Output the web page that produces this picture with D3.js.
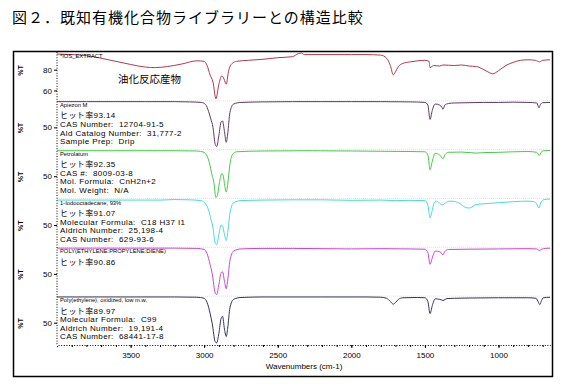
<!DOCTYPE html>
<html>
<head>
<meta charset="utf-8">
<script src="https://cdn.jsdelivr.net/npm/d3@7"></script>
<style>
  body { margin: 0; background: #fff; }
  svg { display: block; }
  text { font-family: "Liberation Sans", "Noto Sans CJK JP", sans-serif; }
</style>
</head>
<body>
<div id="chart"></div>
<script>
// wavenumber (cm-1), %T
const iosExtract = [[4000,95],[3900,94.5],[3800,93.5],[3700,91],[3600,88],[3500,85],[3400,82.5],[3330,82],[3250,83],[3150,85.5],[3050,88.5],[3000,88],[2980,84],[2960,75],[2940,68],[2920,52],[2900,66],[2880,74],[2865,71],[2850,66],[2835,78],[2810,86],[2780,88],[2700,89],[2600,90],[2500,91.5],[2400,92.5],[2360,95.5],[2340,96],[2320,94.5],[2200,94.5],[2000,94.5],[1900,94.5],[1800,94],[1760,91],[1735,84],[1715,75],[1700,78],[1680,83],[1650,86],[1600,87.5],[1550,88.5],[1500,89],[1472,88],[1465,82],[1440,84],[1400,83.5],[1377,84.5],[1300,84],[1250,84.5],[1200,83.5],[1150,83],[1100,80],[1060,77],[1040,76],[1000,79],[950,84],[900,87],[850,89],[800,89.5],[750,89],[720,87.5],[700,89],[650,89.5]];
const apiezonM = [[4000,98.5],[3800,98.5],[3600,98.5],[3400,98.5],[3200,98.5],[3100,98],[3020,97],[2990,93],[2970,80],[2955,66],[2940,50],[2925,18],[2915,14],[2900,35],[2885,60],[2875,62],[2862,42],[2850,22],[2840,38],[2825,78],[2800,94],[2750,97],[2600,98],[2400,98.5],[2200,98.5],[2000,98.5],[1800,98.5],[1600,98],[1500,97],[1480,92],[1465,65],[1450,82],[1430,94],[1400,92],[1385,88],[1377,84],[1365,92],[1340,95],[1300,96],[1200,96.5],[1100,97],[1000,97],[900,97.5],[800,97],[740,96],[725,87],[715,93],[700,96.5],[650,97]];
const petrolatum = [[4000,98],[3600,98],[3200,98],[3050,97.5],[3000,95],[2980,88],[2960,70],[2945,50],[2935,40],[2920,10],[2910,14],[2895,40],[2880,55],[2870,50],[2860,32],[2850,20],[2840,35],[2825,72],[2810,90],[2780,96],[2600,97.5],[2300,98],[2000,97.5],[1800,97],[1600,96.5],[1500,96],[1480,90],[1465,62],[1450,78],[1430,93],[1400,90],[1377,83],[1365,90],[1340,95],[1250,95.5],[1150,93.5],[1100,94.5],[1000,95],[900,96],[800,96.5],[740,95],[722,89],[710,95],[690,98],[650,98.5]];
const iodooctadecane = [[4000,97],[3600,97],[3300,97],[3200,98],[3100,97.5],[3020,96],[2990,90],[2970,78],[2955,62],[2940,45],[2925,16],[2915,13],[2900,32],[2885,50],[2875,48],[2862,32],[2850,21],[2840,36],[2825,72],[2800,92],[2750,96],[2600,97],[2400,97.5],[2200,97.5],[2000,96.5],[1800,97],[1700,96],[1600,96.5],[1500,96],[1480,88],[1465,63],[1450,78],[1435,93],[1420,95],[1400,91],[1380,88],[1360,92],[1330,95],[1300,94.5],[1260,90],[1230,84],[1200,82],[1180,84],[1160,88],[1100,90],[1000,92],[900,94],[800,95],[760,94],[740,90],[725,82],[712,92],[690,98],[650,99]];
const epdm = [[4000,98.5],[3600,98.5],[3200,98.5],[3050,98],[3000,96],[2980,88],[2960,68],[2945,50],[2925,14],[2915,11],[2900,30],[2885,52],[2875,54],[2862,36],[2850,22],[2840,38],[2825,75],[2800,93],[2750,97],[2600,98],[2400,98],[2200,97.5],[2000,97],[1800,97.5],[1600,97],[1500,96.5],[1480,90],[1465,68],[1450,80],[1430,93],[1400,92],[1377,86],[1365,92],[1340,96],[1200,96.5],[1000,97],[800,97.5],[740,97],[722,94],[710,96],[680,98],[650,98.5]];
const oxidizedPE = [[4000,98.5],[3600,98.5],[3200,98.5],[3050,98],[3000,96],[2980,88],[2960,68],[2945,48],[2925,14],[2915,12],[2900,30],[2885,58],[2875,62],[2862,38],[2850,24],[2840,40],[2825,78],[2800,94],[2750,97.5],[2600,98.5],[2200,98.5],[1900,98.5],[1800,98],[1760,96],[1735,90],[1715,85],[1700,88],[1680,94],[1650,97],[1550,97.5],[1500,97],[1480,90],[1465,67],[1450,82],[1430,95],[1400,94],[1377,92],[1350,95.5],[1300,96],[1200,96.5],[1000,97],[800,97],[745,96],[728,88],[720,84],[710,90],[695,97],[650,98]];

const spectra = [iosExtract, apiezonM, petrolatum, iodooctadecane, epdm, oxidizedPE];
const colors = ["#b0384c", "#5c3a5e", "#44cc44", "#44dcdc", "#cc44cc", "#333355"];
const yDomains = [[50, 97], [8, 100], [8, 100], [8, 100], [8, 100], [8, 100]];
const yTicks = [[60, 80], [50], [50], [50], [50], [50]];
const labels = ["*IOS_EXTRACT", "Apiezon M", "Petrolatum", "1-Iodooctadecane, 93%", "POLY(ETHYLENE:PROPYLENE:DIENE)", "Poly(ethylene), oxidized, low m.w."];
const infoLines = [
  [],
  ["ヒット率93.14", "CAS Number:  12704-91-5", "Ald Catalog Number:  31,777-2", "Sample Prep:  Drip"],
  ["ヒット率92.35", "CAS #:  8009-03-8", "Mol. Formula:  CnH2n+2", "Mol. Weight:  N/A"],
  ["ヒット率91.07", "Molecular Formula:  C18 H37 I1", "Aldrich Number:  25,198-4", "CAS Number:  629-93-6"],
  ["ヒット率90.86"],
  ["ヒット率89.97", "Molecular Formula:  C99", "Aldrich Number:  19,191-4", "CAS Number:  68441-17-8"]
];
const xTicks = [3500, 3000, 2500, 2000, 1500, 1000];

const W = 567, H = 384;
const plotL = 57, plotR = 550, plotT = 52, plotB = 345;
const panelH = (plotB - plotT) / spectra.length;

const svg = d3.select("#chart").append("svg").attr("width", W).attr("height", H);

svg.append("text").attr("x", 12).attr("y", 23)
  .style("font-family", "'Noto Sans CJK JP'").style("font-size", "15px").style("letter-spacing", "1px")
  .text("図２．既知有機化合物ライブラリーとの構造比較");

svg.append("rect").attr("x", 13.5).attr("y", 51.5).attr("width", 539).attr("height", 325)
  .attr("fill", "none").attr("stroke", "#000").attr("stroke-width", 1.5);

const x = d3.scaleLinear().domain([4000, 650]).range([plotL, plotR]);

spectra.forEach((data, i) => {
  const pTop = plotT + i * panelH;
  const y = d3.scaleLinear().domain(yDomains[i]).range([pTop + panelH, pTop]);
  const g = svg.append("g").attr("class", "panel");

  if (i > 0) {
    g.append("line").attr("x1", plotL).attr("x2", plotR).attr("y1", pTop).attr("y2", pTop)
      .attr("stroke", "#e4e4d8").attr("stroke-dasharray", "1,1");
  }

  const line = d3.line().x(d => x(d[0])).y(d => y(d[1])).curve(d3.curveMonotoneX);
  g.append("path").datum(data).attr("d", line)
    .attr("fill", "none").attr("stroke", colors[i]).attr("stroke-width", 1);

  const ax = g.append("g").attr("transform", `translate(${plotL},0)`)
    .call(d3.axisLeft(y).tickValues(yTicks[i]).tickSize(3).tickPadding(2));
  ax.select(".domain").remove();
  ax.selectAll("text").style("font-size", "8px").style("font-family", "'Liberation Sans'");

  g.append("text").attr("transform", `translate(23,${y(yTicks[i][yTicks[i].length - 1]) + 6}) rotate(-90)`)
    .style("font-size", "7px").style("font-weight", "bold").text("%T");

  g.append("text").attr("x", 60).attr("y", pTop + 6)
    .style("font-size", "5.8px").text(labels[i]);

  infoLines[i].forEach((t, k) => {
    g.append("text").attr("x", 60).attr("y", pTop + 17.5 + k * 8.6)
      .style("font-size", "8px").style("letter-spacing", "0.4px").style("white-space", "pre")
      .text(t);
  });
});

svg.append("text").attr("x", 118).attr("y", 83)
  .style("font-family", "'Noto Sans CJK JP'").style("font-size", "10.5px").text("油化反応産物");

// y axis dotted line
svg.append("line").attr("x1", plotL).attr("x2", plotL).attr("y1", plotT).attr("y2", plotB)
  .attr("stroke", "#000").attr("stroke-dasharray", "1,1.6");

// x axis
const xa = svg.append("g").attr("transform", `translate(0,${plotB})`)
  .call(d3.axisBottom(x).tickValues(d3.range(3900, 650, -100)).tickSize(2).tickFormat(""));
xa.select(".domain").attr("stroke-dasharray", "1,1.6");
const xl = svg.append("g").attr("transform", `translate(0,${plotB})`)
  .call(d3.axisBottom(x).tickValues(xTicks).tickSize(3).tickPadding(4).tickFormat(d3.format("d")));
xl.select(".domain").remove();
xl.selectAll("text").style("font-size", "8px").style("font-family", "'Liberation Sans'");

svg.append("text").attr("x", 304).attr("y", 369).attr("text-anchor", "middle")
  .style("font-size", "8px").text("Wavenumbers (cm-1)");
</script>
</body>
</html>
